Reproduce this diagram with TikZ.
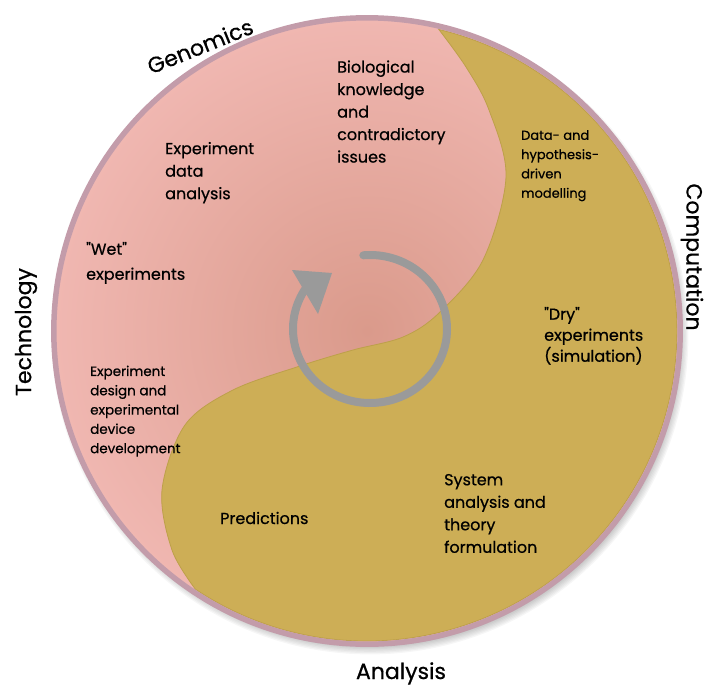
\documentclass[tikz,border=0pt]{standalone}
\usepackage{fontspec}
\setmainfont{Poppins}[FakeBold=0.6]
\usetikzlibrary{calc}

\definecolor{rimmauve}{HTML}{C39CAA}
\definecolor{pinklight}{HTML}{F0B7B1}
\definecolor{pinkdeep}{HTML}{DA9A8B}
\definecolor{goldfill}{HTML}{CDAE56}
\definecolor{goldedge}{HTML}{BDA04A}
\definecolor{arrowgrey}{HTML}{9A9A9A}

\begin{document}
\begin{tikzpicture}[x=1pt,y=1pt,yscale=-1,
  txt/.style={anchor=north west,inner sep=0pt,align=left,
    font=\fontsize{16}{22.5}\selectfont},
  smalltxt/.style={txt,font=\fontsize{13.5}{19.3}\selectfont},
  outer/.style={inner sep=0pt,font=\fontsize{22}{26}\selectfont}]

\useasboundingbox (0,0) rectangle (712,688);

% soft shadow under the disc
\foreach \i in {1,...,8}
  \fill[black,opacity=0.035] (370,336) circle[radius=308+\i*1.3];

% the disc
\coordinate (c) at (367,331);
\shade[inner color=pinkdeep,outer color=pinklight] (c) circle[radius=313];

% gold half
\fill[goldfill,draw=goldedge,line width=0.8]
  plot[smooth,tension=0.55] coordinates {(438.8,29.4) (466,67) (489,110)
    (506,177) (483,260) (439,313) (403,337) (353,350) (300,366)
    (233,390) (185,425) (162,490) (172,550) (195.4,589.2)}
  arc[start angle=123.6,end angle=-76.6,radius=310] -- cycle;

% rim
\draw[rimmauve,line width=5.5] (c) circle[radius=313.2];

% cycle arrow
\coordinate (hub) at (370,329);
\draw[arrowgrey,line width=8,line cap=round]
  (hub) ++(-95:77 and 74) arc[start angle=-95,end angle=213,x radius=77,y radius=74];
\fill[arrowgrey] (292,270) -- (332,273) -- (318,314) -- cycle;

% labels inside
\node[txt] (bio) at (337,60.2) {Biological\\knowledge\\and\\contradictory\\issues};
\node[txt] (expdata) at (165,141.8) {Experiment\\data\\analysis};
\node[txt,font=\fontsize{16}{25}\selectfont] (wet) at (86,241.8) {\textquotedbl Wet\textquotedbl\\experiments};
\node[smalltxt] (design) at (90,365.5) {Experiment\\design and\\experimental\\device\\development};
\node[txt,anchor=base west] (pred) at (220,524) {Predictions};
\node[smalltxt,font=\fontsize{13}{19.3}\selectfont] (datahyp) at (521,130) {Data- and\\hypothesis-\\driven\\modelling};
\node[txt,font=\fontsize{16}{21}\selectfont] (dry) at (544,306.8) {\textquotedbl Dry\textquotedbl\\experiments\\(simulation)};
\node[txt] (system) at (444,473.8) {System\\analysis and\\theory\\formulation};

% labels outside
\node[outer,rotate=22] (genomics) at (200,46) {Genomics};
\node[outer,rotate=90] (technology) at (26,332) {Technology};
\node[outer,rotate=-90] (computation) at (692,257) {Computation};
\node[outer,anchor=base] (analysis) at (401,679) {Analysis};
\end{tikzpicture}
\end{document}
